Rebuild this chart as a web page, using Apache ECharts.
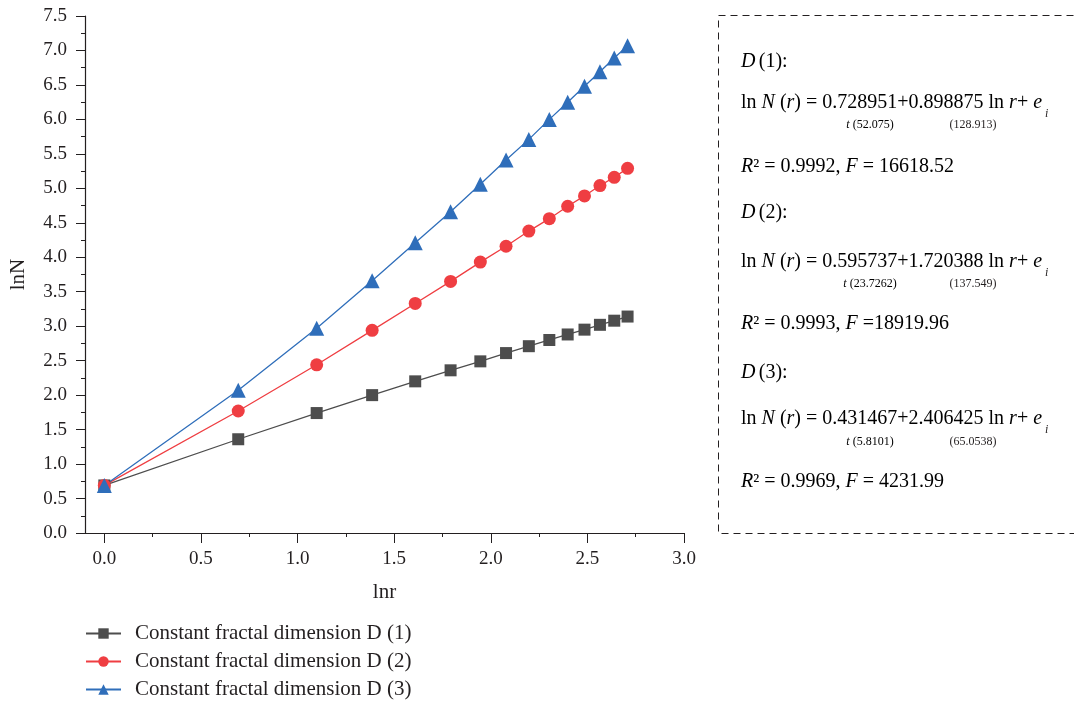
<!DOCTYPE html>
<html>
<head>
<meta charset="utf-8">
<script src="https://cdn.jsdelivr.net/npm/echarts@6/dist/echarts.min.js"></script>
<style>
  html, body { margin: 0; padding: 0; background: #fff; }
  #chart { width: 1074px; height: 701px; }
</style>
</head>
<body>
<div id="chart"></div>
<script>
// x = ln r for r = 1..15
var lnr = [0, 0.693, 1.099, 1.386, 1.609, 1.792, 1.946, 2.079, 2.197, 2.303, 2.398, 2.485, 2.565, 2.639, 2.708];
var d1 = [0.69, 1.36, 1.74, 2.00, 2.20, 2.36, 2.49, 2.61, 2.71, 2.80, 2.88, 2.95, 3.02, 3.08, 3.14];
var d2 = [0.69, 1.77, 2.44, 2.94, 3.33, 3.65, 3.93, 4.16, 4.38, 4.56, 4.74, 4.89, 5.04, 5.16, 5.29];
var d3 = [0.69, 2.07, 2.97, 3.66, 4.21, 4.66, 5.06, 5.41, 5.71, 6.00, 6.25, 6.48, 6.69, 6.89, 7.07];
var seriesNames = ['Constant fractal dimension D (1)', 'Constant fractal dimension D (2)', 'Constant fractal dimension D (3)'];
var xLabels = [0, 0.5, 1.0, 1.5, 2.0, 2.5, 3.0];
var xMinorTicks = [0.25, 0.75, 1.25, 1.75, 2.25, 2.75];

// regression results shown in the box
var dNames = ['1', '2', '3'];
var intercepts = ['0.728951', '0.595737', '0.431467'];
var slopes = ['0.898875', '1.720388', '2.406425'];
var tIntercept = [' (52.075)', ' (23.7262)', ' (5.8101)'];
var tSlope = ['(128.913)', '(137.549)', '(65.0538)'];
var r2 = ['0.9992', '0.9993', '0.9969'];
var fStat = ['= 16618.52', '=18919.96', '= 4231.99'];

var serif = '"Liberation Serif", "DejaVu Serif", serif';
var ink = '#231f20';

function pairs(ys) {
    var out = [];
    for (var i = 0; i < lnr.length; i++) out.push([lnr[i], ys[i]]);
    return out;
}

function lineSeries(name, ys, color, symbol, size) {
    return {
        name: name,
        type: 'line',
        data: pairs(ys),
        symbol: symbol,
        symbolSize: size,
        showSymbol: true,
        lineStyle: { color: color, width: 1.3 },
        itemStyle: { color: color },
        emphasis: { disabled: true },
        z: 3
    };
}

// equation block on the right
var bx = 741;
var rowD = [62, 213, 373];
var rowLn = [103, 262, 419];
var rowSub = [125, 284, 442];
var rowR2 = [167, 324, 482];
var rich = {
    n: { fontFamily: serif, fontSize: 20, color: ink },
    i: { fontFamily: serif, fontSize: 20, color: ink, fontStyle: 'italic' }
};
var richSmall = {
    n: { fontFamily: serif, fontSize: 12, color: ink },
    i: { fontFamily: serif, fontSize: 12, color: ink, fontStyle: 'italic' }
};
var graphics = [{
    type: 'rect',
    shape: { x: 718.5, y: 15.5, width: 370, height: 518 },
    style: { fill: 'none', stroke: '#231f20', lineWidth: 1, lineDash: [7, 5] },
    silent: true
}];
for (var k = 0; k < 3; k++) {
    graphics.push({ type: 'text', x: bx, y: rowD[k],
        style: { text: '{i|D} {n|(' + dNames[k] + '):}', rich: rich, verticalAlign: 'middle' } });
    graphics.push({ type: 'text', x: bx, y: rowLn[k],
        style: { text: '{n|ln }{i|N}{n| (}{i|r}{n|) = ' + intercepts[k] + '+' + slopes[k] + ' ln }{i|r}{n|+ }{i|e}',
            rich: rich, verticalAlign: 'middle' } });
    graphics.push({ type: 'text', x: 1045, y: rowLn[k] + 11,
        style: { text: 'i', font: 'italic 12px ' + serif, fill: ink, verticalAlign: 'middle' } });
    graphics.push({ type: 'text', x: 870, y: rowSub[k],
        style: { text: '{i|t}{n|' + tIntercept[k] + '}', rich: richSmall, align: 'center', verticalAlign: 'middle' } });
    graphics.push({ type: 'text', x: 973, y: rowSub[k],
        style: { text: tSlope[k], font: '12px ' + serif, fill: ink, align: 'center', verticalAlign: 'middle' } });
    graphics.push({ type: 'text', x: bx, y: rowR2[k],
        style: { text: '{i|R}{n|² = ' + r2[k] + ', }{i|F}{n| ' + fStat[k] + '}', rich: rich, verticalAlign: 'middle' } });
}

var chart = echarts.init(document.getElementById('chart'));
chart.setOption({
    animation: false,
    backgroundColor: '#fff',
    grid: { left: 85, right: 390, top: 16, bottom: 168 },
    legend: {
        orient: 'vertical',
        left: 85,
        top: 623,
        padding: 0,
        itemWidth: 35,
        itemHeight: 13,
        itemGap: 7,
        textStyle: { fontFamily: serif, fontSize: 21, lineHeight: 20, color: ink, padding: [0, 0, 0, 9] },
        data: seriesNames
    },
    xAxis: [{
        type: 'value',
        min: -0.1,
        max: 3.0,
        name: 'lnr',
        nameLocation: 'middle',
        nameGap: 49,
        nameTextStyle: { fontFamily: serif, fontSize: 21, color: ink },
        axisLine: { show: true, onZero: false, lineStyle: { color: ink, width: 1.2 } },
        axisTick: { show: true, customValues: xLabels, length: 10, lineStyle: { color: ink } },
        axisLabel: {
            customValues: xLabels, margin: 17,
            fontFamily: serif, fontSize: 19, color: ink,
            formatter: function (v) { return v.toFixed(1); }
        },
        splitLine: { show: false }
    }, {
        type: 'value',
        position: 'bottom',
        min: -0.1,
        max: 3.0,
        axisLine: { show: false, onZero: false },
        axisTick: { show: true, customValues: xMinorTicks, length: 4, lineStyle: { color: ink } },
        axisLabel: { show: false },
        splitLine: { show: false }
    }],
    yAxis: {
        type: 'value',
        min: 0,
        max: 7.5,
        interval: 0.5,
        name: 'lnN',
        nameLocation: 'middle',
        nameGap: 56,
        nameRotate: 90,
        nameTextStyle: { fontFamily: serif, fontSize: 21, color: ink },
        axisLine: { show: true, onZero: false, lineStyle: { color: ink, width: 1.2 } },
        axisTick: { show: true, length: 9, lineStyle: { color: ink } },
        minorTick: { show: true, splitNumber: 2, length: 4, lineStyle: { color: ink } },
        axisLabel: {
            margin: 18, fontFamily: serif, fontSize: 19, color: ink,
            formatter: function (v) { return v.toFixed(1); }
        },
        splitLine: { show: false }
    },
    series: [
        lineSeries(seriesNames[0], d1, '#4d4d4d', 'rect', 12),
        lineSeries(seriesNames[1], d2, '#ef3e42', 'circle', 13),
        lineSeries(seriesNames[2], d3, '#2f6eba', 'triangle', 15)
    ],
    graphic: graphics
});
</script>
</body>
</html>
